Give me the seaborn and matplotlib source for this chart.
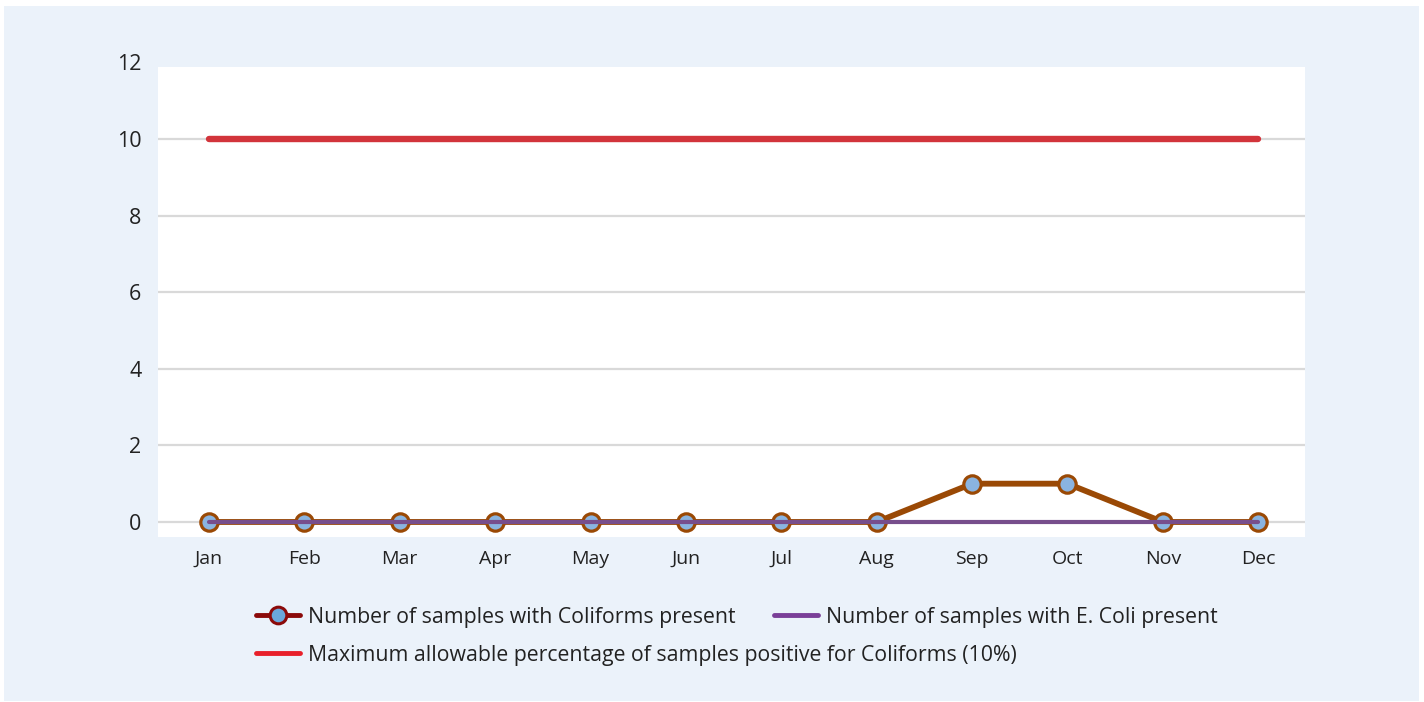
import matplotlib
matplotlib.use("Agg")
import matplotlib.pyplot as plt
from matplotlib.lines import Line2D
from matplotlib.patches import Rectangle
import seaborn as sns

# ── data ─────────────────────────────────────────────────────────────────────
MONTHS = ["Jan", "Feb", "Mar", "Apr", "May", "Jun",
          "Jul", "Aug", "Sep", "Oct", "Nov", "Dec"]
COLIFORMS = [0, 0, 0, 0, 0, 0, 0, 0, 1, 1, 0, 0]
ECOLI = [0, 0, 0, 0, 0, 0, 0, 0, 0, 0, 0, 0]
MAX_ALLOWED = [10] * 12
Y_TICKS = [0, 2, 4, 6, 8, 10, 12]

LABELS = ["Number of samples with Coliforms present",
          "Number of samples with E. Coli present",
          "Maximum allowable percentage of samples positive for Coliforms (10%)"]

BG = "#ebf2fa"
RED = "#d2343b"
BROWN = "#9a4905"
PURPLE = "#774e8c"
BLUE = "#8ab4e0"
TEXT = "#222222"

sns.set_theme(style="white")
plt.rcParams["font.family"] = ["Open Sans", "DejaVu Sans"]

fig = plt.figure(figsize=(14.24, 7.02), dpi=100, facecolor="white")
fig.patches.append(Rectangle((4 / 1424, 1 / 702), 1415 / 1424, 695 / 702,
                             transform=fig.transFigure, facecolor=BG,
                             edgecolor="none", zorder=-10))

ax = fig.add_axes([158 / 1424, 1 - 537.3 / 702, 1147 / 1424, 474.9 / 702])
ax.set_zorder(1)
ax.set_facecolor("none")
ax.axhspan(-0.4, 11.88, color="white", zorder=0, lw=0)

x = list(range(len(MONTHS)))

# gridlines (12 falls outside the white area)
for t in Y_TICKS[:-1]:
    ax.axhline(t, color="#d9d9d9", lw=1.6, zorder=1)

sns.lineplot(x=x, y=MAX_ALLOWED, ax=ax, color=RED, lw=4.6,
             solid_capstyle="round", zorder=3)
sns.lineplot(x=x, y=COLIFORMS, ax=ax, color=BROWN, lw=4.2,
             marker="o", markersize=12.5, markerfacecolor=BLUE,
             markeredgecolor=BROWN, markeredgewidth=2.3, zorder=4)
sns.lineplot(x=x, y=ECOLI, ax=ax, color=PURPLE, lw=3.0, zorder=5)

ax.set_xlim(-0.535, 11.49)
ax.set_ylim(-0.4, 12)
ax.set_xticks(x)
ax.set_xticklabels(MONTHS, fontsize=14, color=TEXT)
ax.set_yticks(Y_TICKS)
ax.set_yticklabels([str(t) for t in Y_TICKS], fontsize=15.5, color=TEXT)
ax.tick_params(axis="x", length=0, pad=9)
ax.tick_params(axis="y", length=0, pad=12)
ax.set_xlabel("")
ax.set_ylabel("")
for s in ax.spines.values():
    s.set_visible(False)

# legend handles
h_coli = Line2D([], [], color="#8b0a0a", lw=3.5, marker="o", markersize=12,
                markerfacecolor="#6aa8dc", markeredgecolor="#8b0a0a",
                markeredgewidth=2.2)
h_ecoli = Line2D([], [], color="#7a3f98", lw=3.5)
h_max = Line2D([], [], color="#e8202a", lw=3.5)

leg_kw = dict(frameon=False, fontsize=15.3, handlelength=2.05,
              handletextpad=0.4, borderpad=0, borderaxespad=0,
              labelcolor=TEXT)
leg1 = fig.legend([h_coli, h_ecoli], LABELS[:2], ncol=2, loc="center left",
                  bbox_to_anchor=(256 / 1424, 1 - 617 / 702),
                  columnspacing=1.8, **leg_kw)
leg2 = fig.legend([h_max], LABELS[2:], loc="center left",
                  bbox_to_anchor=(256 / 1424, 1 - 655 / 702), **leg_kw)

fig.savefig("out.png", dpi=100, facecolor=fig.get_facecolor())
